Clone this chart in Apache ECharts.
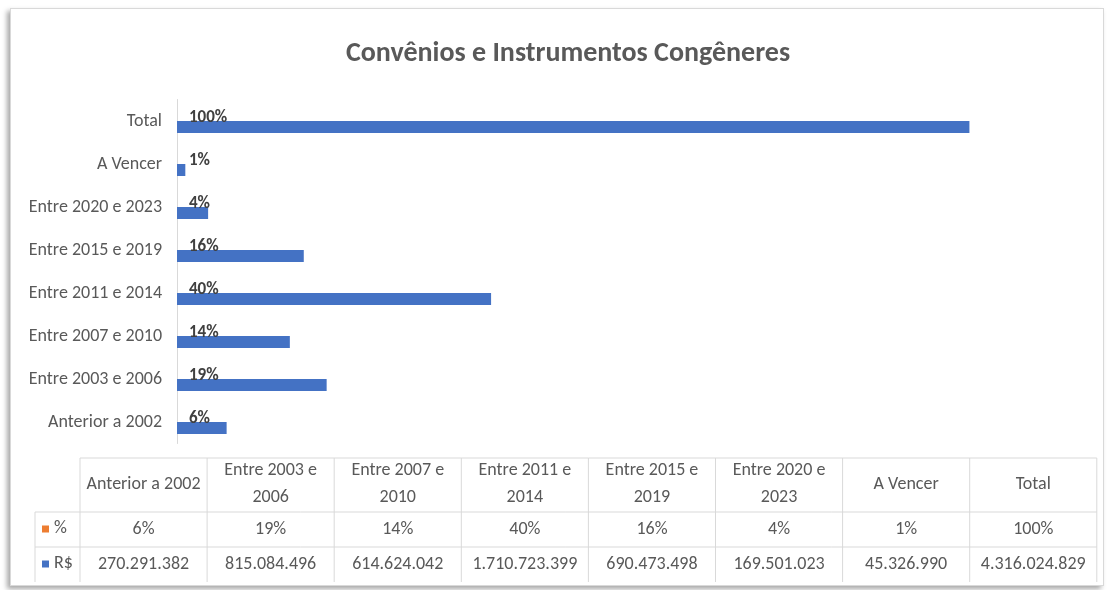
<!DOCTYPE html>
<html>
<head>
<meta charset="utf-8">
<script src="https://cdn.jsdelivr.net/npm/echarts@6/dist/echarts.min.js"></script>
<style>
  html, body { margin: 0; padding: 0; background: #fff; }
  .frame {
    position: absolute; left: 10px; top: 8px; width: 1092px; height: 576px;
    border: 1px solid #d9d9d9; box-shadow: -3px 3px 5px rgba(0,0,0,0.35);
    background: #fff;
  }
  #chart { position: absolute; left: 0; top: 0; width: 1110px; height: 590px; }
</style>
</head>
<body>
<div class="frame"></div>
<div id="chart"></div>
<script>
// dados
const categories = ['Anterior a 2002', 'Entre 2003 e 2006', 'Entre 2007 e 2010', 'Entre 2011 e 2014',
  'Entre 2015 e 2019', 'Entre 2020 e 2023', 'A Vencer', 'Total']
const percentValues = [6, 19, 14, 40, 16, 4, 1, 100]
const realValues = [270291382, 815084496, 614624042, 1710723399, 690473498, 169501023, 45326990, 4316024829]
const seriesNames = ['%', 'R$']

const FONT = 'Carlito, Lato, sans-serif'
const TEXT = '#595959'
const LINE = '#d9d9d9'
const BLUE = '#4472C4'
const ORANGE = '#ED7D31'

const fmtBR = v => String(v).replace(/\B(?=(\d{3})+(?!\d))/g, '.')
const wrapHeader = s => s.replace(/ e (\d{4})$/, ' e\n$1')

// tabela de dados (abaixo do gráfico)
const tableLeft = 80
const colW = 127.1
const rowTop = 458
const headH = 54
const rowH = 35
const keyLeft = 35
const tableRight = tableLeft + colW * categories.length

const graphic = []
const hline = (x1, x2, y) => graphic.push({ type: 'line', shape: { x1, y1: y, x2, y2: y }, style: { stroke: LINE, lineWidth: 1 } })
const vline = (x, y1, y2) => graphic.push({ type: 'line', shape: { x1: x, y1, x2: x, y2 }, style: { stroke: LINE, lineWidth: 1 } })

hline(tableLeft, tableRight, rowTop)
hline(keyLeft, tableRight, rowTop + headH)
hline(keyLeft, tableRight, rowTop + headH + rowH)
vline(keyLeft, rowTop + headH, rowTop + headH + rowH * 2)
for (let i = 0; i <= categories.length; i++) {
  vline(tableLeft + colW * i, rowTop, rowTop + headH + rowH * 2)
}

const cellText = (text, x, y) => graphic.push({
  type: 'text', x, y,
  style: { text, fill: TEXT, font: '18px ' + FONT, align: 'center', verticalAlign: 'middle', lineHeight: 27 }
})

categories.forEach((c, i) => {
  const cx = tableLeft + colW * (i + 0.5)
  cellText(wrapHeader(c), cx, rowTop + headH / 2 - 1)
  cellText(percentValues[i] + '%', cx, rowTop + headH + rowH / 2)
  cellText(fmtBR(realValues[i]), cx, rowTop + headH + rowH * 1.5)
})

// legenda da tabela
;[ORANGE, BLUE].forEach((col, k) => {
  const cy = rowTop + headH + rowH * (k + 0.5)
  graphic.push({ type: 'rect', shape: { x: 42, y: cy - 4, width: 7, height: 7 }, style: { fill: col } })
  graphic.push({
    type: 'text', x: 54, y: cy - 1,
    style: { text: seriesNames[k], fill: TEXT, font: '18px ' + FONT, verticalAlign: 'middle' }
  })
})

const chart = echarts.init(document.getElementById('chart'))

chart.setOption({
  animation: false,
  textStyle: { fontFamily: FONT },
  title: {
    text: 'Convênios e Instrumentos Congêneres',
    left: 563,
    top: 35,
    textAlign: 'center',
    textStyle: { fontFamily: FONT, fontSize: 28, fontWeight: 'bold', color: TEXT }
  },
  grid: { left: 177, right: 15, top: 99.5, height: 344, containLabel: false },
  xAxis: {
    type: 'value',
    min: 0,
    max: 5000000000,
    show: false
  },
  yAxis: {
    type: 'category',
    data: categories,
    axisLine: { lineStyle: { color: LINE } },
    axisTick: { show: false },
    axisLabel: { color: TEXT, fontSize: 18, margin: 15, fontFamily: FONT }
  },
  series: [
    {
      name: seriesNames[0],
      type: 'bar',
      data: percentValues,
      barWidth: 12,
      barGap: '0%',
      itemStyle: { color: ORANGE },
      label: {
        show: true,
        position: 'right',
        distance: 12,
        offset: [0, 3],
        formatter: p => p.value + '%',
        color: '#404040',
        fontSize: 17,
        fontWeight: 'bold',
        fontFamily: FONT
      }
    },
    {
      name: seriesNames[1],
      type: 'bar',
      data: realValues,
      barWidth: 12,
      barGap: '0%',
      itemStyle: { color: BLUE }
    }
  ],
  graphic
})
</script>
</body>
</html>
